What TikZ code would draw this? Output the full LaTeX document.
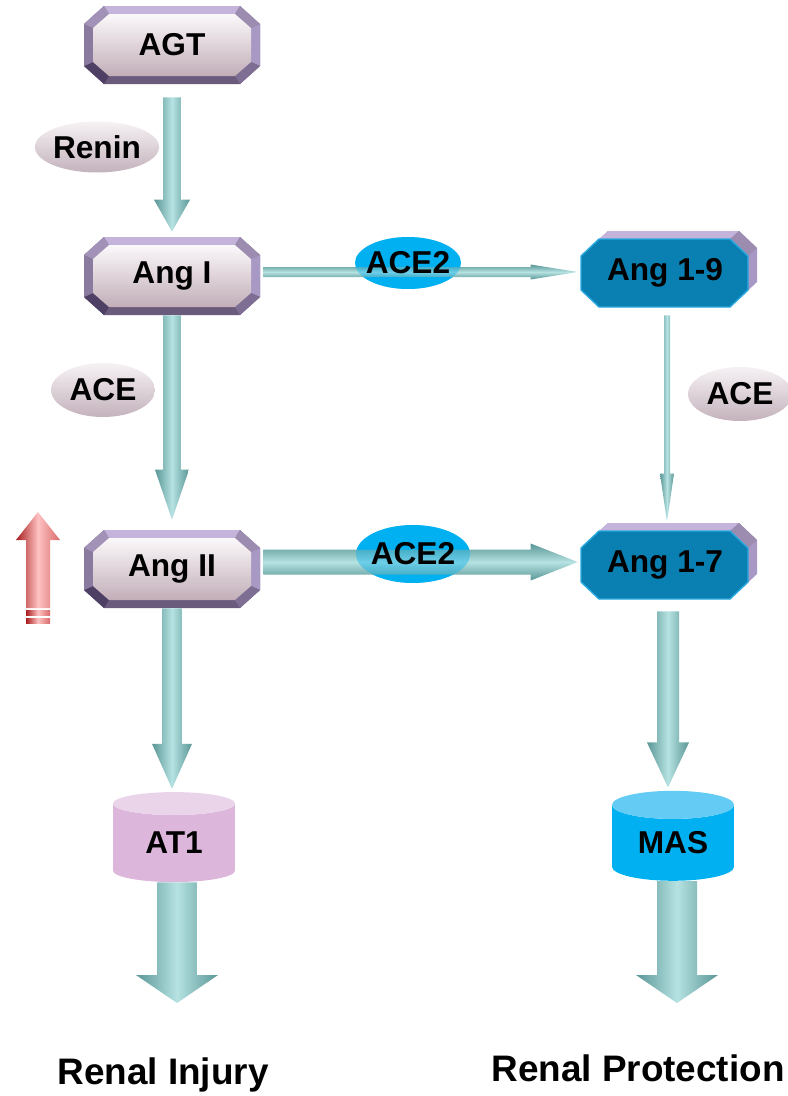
\documentclass[tikz,border=0pt]{standalone}
\usepackage{fontspec}
\setmainfont{Liberation Sans}
\usepackage{tikz}
\usetikzlibrary{calc,shapes.geometric}

\definecolor{tealdark}{HTML}{5A9696}
\definecolor{teallight}{HTML}{B6E2E2}
\definecolor{bevtop}{HTML}{C4B4DC}
\definecolor{bevtr}{HTML}{9C8CB0}
\definecolor{bevr}{HTML}{A898C4}
\definecolor{bevbr}{HTML}{7E6E94}
\definecolor{bevb}{HTML}{6A5A7C}
\definecolor{bevbl}{HTML}{4E4064}
\definecolor{bevl}{HTML}{8A7AA0}
\definecolor{bevtl}{HTML}{A292B8}
\definecolor{facetop}{HTML}{FBF8FA}
\definecolor{facebot}{HTML}{C2AEB8}
\definecolor{angblue}{HTML}{0A80B2}
\definecolor{angedge}{HTML}{2AA8E0}
\definecolor{acecyan}{HTML}{00B0F0}
\definecolor{enztop}{HTML}{F6F2F4}
\definecolor{enzbot}{HTML}{C4B2BC}
\definecolor{atbody}{HTML}{DDB6DC}
\definecolor{atend}{HTML}{EAD4EA}
\definecolor{masend}{HTML}{64CCF4}
\definecolor{reddark}{HTML}{A81C1C}
\definecolor{redmid}{HTML}{D86A6A}
\definecolor{redlight}{HTML}{FFC2C2}

\newcommand{\boxfont}{\fontsize{18}{20}\selectfont\bfseries}
\newcommand{\bigfont}{\fontsize{21}{24}\selectfont\bfseries}

\tikzstyle{boxtext} = [minimum width=3.52cm, minimum height=1.56cm, inner sep=0pt, font=\boxfont]
\tikzstyle{enzyme} = [ellipse, top color=enztop, bottom color=enzbot, inner sep=0pt, font=\boxfont]
\tikzstyle{ace2} = [inner sep=0pt, font=\boxfont]
\tikzstyle{receptor} = [cylinder, shape border rotate=90, aspect=0.4, cylinder uses custom fill,
  minimum width=2.44cm, minimum height=1.8cm, inner sep=0pt, font=\boxfont]
\tikzstyle{outcome} = [inner sep=0pt, font=\bigfont]

% pink bevelled box: name, position, text
\newcommand{\pinkbox}[3]{%
  \begin{scope}[shift={#2}]
    \fill[bevb] (-68,-39) -- (68,-39) -- (88,-21) -- (88,21) -- (68,39) -- (-68,39) -- (-88,21) -- (-88,-21) -- cycle;
    \fill[bevtop] (-68,-39) -- (68,-39) -- (63,-31) -- (-63,-31) -- cycle;
    \fill[bevtr] (68,-39) -- (88,-21) -- (79,-17) -- (63,-31) -- cycle;
    \fill[bevr] (88,-21) -- (88,21) -- (79,17) -- (79,-17) -- cycle;
    \fill[bevbr] (88,21) -- (68,39) -- (63,31) -- (79,17) -- cycle;
    \fill[bevbl] (-68,39) -- (-88,21) -- (-79,17) -- (-63,31) -- cycle;
    \fill[bevl] (-88,21) -- (-88,-21) -- (-79,-17) -- (-79,17) -- cycle;
    \fill[bevtl] (-88,-21) -- (-68,-39) -- (-63,-31) -- (-79,-17) -- cycle;
    \shade[top color=facetop, bottom color=facebot] (-63,-31) -- (63,-31) -- (79,-17) -- (79,17)
      -- (63,31) -- (-63,31) -- (-79,17) -- (-79,-17) -- cycle;
  \end{scope}
  \node[boxtext] (#1) at #2 {#3};}

% blue box with a lavender back plate: name, position, text
\newcommand{\bluebox}[3]{%
  \begin{scope}[shift={#2}]
    \fill[bevr] (-60,-38) -- (71,-38) -- (89,-21) -- (89,13) -- (71,30) -- (-60,30) -- (-78,13) -- (-78,-21) -- cycle;
    \fill[bevtop] (-60,-38) -- (71,-38) -- (62,-30) -- (-69,-30) -- cycle;
    \fill[bevtr] (71,-38) -- (89,-21) -- (80,-13) -- (62,-30) -- cycle;
    \filldraw[fill=angblue, draw=angedge, line width=0.8pt] (-69,-30) -- (62,-30) -- (80,-13) -- (80,21)
      -- (62,38) -- (-69,38) -- (-87,21) -- (-87,-13) -- cycle;
  \end{scope}
  \node[boxtext] (#1) at ($#2+(-3,4)$) {#3};}

% block arrows: from, to, half shaft, half head, head length
\newcommand{\varrow}[5]{%
  \shade[left color=tealdark, right color=tealdark, middle color=teallight]
    let \p1=(#1), \p2=(#2) in
    (\x1-#3,\y1) -- (\x1+#3,\y1) -- (\x1+#3,\y2+#5) -- (\x1+#4,\y2+#5) -- (\x1,\y2)
    -- (\x1-#4,\y2+#5) -- (\x1-#3,\y2+#5) -- cycle;}
\newcommand{\harrow}[5]{%
  \shade[top color=tealdark, bottom color=tealdark, middle color=teallight]
    let \p1=(#1), \p2=(#2) in
    (\x1,\y1+#3) -- (\x2-#5,\y1+#3) -- (\x2-#5,\y1+#4) -- (\x2,\y1) -- (\x2-#5,\y1-#4)
    -- (\x2-#5,\y1-#3) -- (\x1,\y1-#3) -- cycle;}

\begin{document}
\begin{tikzpicture}[x=0.02cm, y=-0.02cm]
  \useasboundingbox (0,0) rectangle (788,1096);

  % Draw the peptides
  \pinkbox{agt}{(172,45)}{AGT}
  \pinkbox{angI}{(172,276)}{Ang I}
  \pinkbox{angII}{(172,569)}{Ang II}
  \bluebox{ang19}{(668,269)}{Ang 1-9}
  \bluebox{ang17}{(668,561)}{Ang 1-7}

  % enzymes
  \node[enzyme, minimum width=2.42cm, minimum height=1.02cm] (renin) at (97,147) {Renin};
  \node[enzyme, minimum width=2.08cm, minimum height=1.08cm] (aceL) at (103,390) {ACE};
  \node[enzyme, minimum width=2.08cm, minimum height=1.08cm] (aceR) at (740,394) {ACE};
  \coordinate (ace2top) at (408,263);
  \coordinate (ace2bot) at (413,554);
  \fill[acecyan] (ace2top) ellipse [x radius=53, y radius=26];
  \fill[acecyan] (ace2bot) ellipse [x radius=57, y radius=29];

  % receptors and outcomes
  \node[receptor, cylinder body fill=atbody, cylinder end fill=atend] (at1) at (174,843) {AT1};
  \node[receptor, cylinder body fill=acecyan, cylinder end fill=masend] (mas) at (673,843) {MAS};
  \node[outcome] (injury) at (163,1075) {Renal Injury};
  \node[outcome] (protect) at (638,1068) {Renal Protection};
  \coordinate (injtip) at (177,1003);
  \coordinate (protip) at (677,1003);

  % Draw the arrows
  \varrow{$(agt.south)+(0,13)$}{$(angI.north)+(0,-5)$}{0.18cm}{0.36cm}{0.64cm}
  \varrow{angI.south}{$(angII.north)+(0,-10)$}{0.18cm}{0.34cm}{1cm}
  \varrow{angII.south}{$(at1.north)+(0,-3)$}{0.2cm}{0.4cm}{0.9cm}
  \varrow{$(ang19.south)+(2,3)$}{$(ang17.north)+(0,-4)$}{0.06cm}{0.14cm}{0.96cm}
  \varrow{$(ang17.south)+(3,7)$}{$(mas.north)+(0,-3)$}{0.22cm}{0.42cm}{0.9cm}
  \varrow{$(at1.south)+(3,0)$}{injtip}{0.4cm}{0.82cm}{0.56cm}
  \varrow{$(mas.south)+(4,0)$}{protip}{0.4cm}{0.82cm}{0.56cm}
  \harrow{$(angI.east)+(3,-4)$}{$(ang19.west)+(1,0)$}{0.1cm}{0.15cm}{0.94cm}
  \harrow{$(angII.east)+(3,-7)$}{$(ang17.west)+(1,0)$}{0.25cm}{0.37cm}{0.94cm}

  % ACE2 seen through the arrows
  \fill[acecyan, opacity=0.4] (ace2top) ellipse [x radius=53, y radius=26];
  \fill[acecyan, opacity=0.4] (ace2bot) ellipse [x radius=57, y radius=29];
  \node[ace2] (ace2a) at (ace2top) {ACE2};
  \node[ace2] (ace2b) at (ace2bot) {ACE2};

  % up arrow for Ang II
  \shade[left color=reddark, right color=redmid, middle color=redlight]
    (26,608) -- (26,540) -- (16,540) -- (38,512) -- (60,540) -- (50,540) -- (50,608) -- cycle;
  \shade[left color=reddark, right color=redmid, middle color=redlight] (26,610) rectangle (50,615);
  \shade[left color=reddark, right color=redmid, middle color=redlight] (26,618) rectangle (50,623);
\end{tikzpicture}
\end{document}
